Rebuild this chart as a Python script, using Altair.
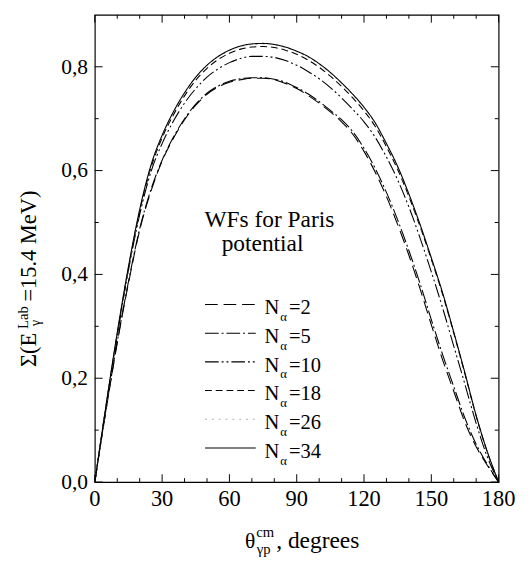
import altair as alt
import pandas as pd

FONT = "serif"

# ---------------- data ----------------
theta = [0, 5, 10, 15, 20, 25, 30, 35, 40, 45, 50, 55, 60, 65, 70, 75, 80, 85, 90,
         95, 100, 105, 110, 115, 120, 125, 130, 135, 140, 145, 150, 155, 160, 165, 170, 175, 180]

series_names = ["2", "5", "10", "18", "26", "34"]

n2 = [0, .138, .268, .383, .485, .560, .618, .662, .698, .726, .747, .761, .770, .775, .778, .778,
      .775, .768, .758, .745, .730, .713, .694, .670, .637, .597, .550, .496, .437, .372, .303,
      .236, .175, .115, .068, .032, 0]
n5 = [0, .140, .270, .386, .488, .563, .620, .664, .700, .728, .749, .763, .772, .777, .779, .779,
      .776, .770, .760, .748, .733, .716, .698, .675, .643, .604, .558, .505, .446, .382, .313,
      .246, .184, .123, .073, .034, 0]
n10 = [0, .146, .282, .408, .515, .597, .652, .695, .730, .758, .780, .796, .808, .816, .820, .820,
       .818, .812, .803, .791, .777, .760, .740, .718, .694, .664, .626, .582, .530, .470, .405,
       .336, .262, .188, .113, .048, 0]
n18 = [0, .146, .285, .412, .521, .605, .663, .707, .744, .774, .797, .814, .826, .834, .838, .839,
       .837, .832, .824, .813, .799, .782, .762, .740, .715, .685, .646, .602, .550, .492, .429,
       .362, .287, .208, .127, .057, 0]
n26 = [0, .148, .287, .414, .524, .609, .667, .712, .749, .779, .802, .819, .831, .839, .843, .844,
       .842, .837, .829, .818, .805, .788, .768, .746, .721, .691, .651, .607, .554, .495, .431,
       .364, .288, .209, .128, .058, 0]
n34 = [0, .148, .288, .415, .525, .610, .668, .713, .750, .780, .803, .820, .832, .840, .844, .845,
       .843, .838, .830, .820, .806, .789, .769, .747, .722, .692, .652, .608, .555, .496, .432,
       .365, .289, .210, .128, .058, 0]

values = {"2": n2, "5": n5, "10": n10, "18": n18, "26": n26, "34": n34}

x_label_values = [0, 30, 60, 90, 120, 150, 180]
x_label_text = ["0", "30", "60", "90", "120", "150", "180"]
x_minor_values = [10, 20, 40, 50, 70, 80, 100, 110, 130, 140, 160, 170]
y_label_values = [0.0, 0.2, 0.4, 0.6, 0.8]
y_label_text = ["0,0", "0,2", "0,4", "0,6", "0,8"]
y_minor_values = [0.1, 0.3, 0.5, 0.7]

legend_labels = ["=2", "=5", "=10", "=18", "=26", "=34"]

rows = []
for s in series_names:
    for t, v in zip(theta, values[s]):
        rows.append({"theta": t, "sigma": v, "series": s})
df = pd.DataFrame(rows)

# ---------------- styles ----------------
W, H = 414, 479
dash_range = [[13, 6], [14, 3, 2, 3], [14, 3, 2, 3, 2, 3], [7, 4], [2, 5], [1, 0]]
color_range = ["black", "black", "black", "black", "#b0b0b0", "black"]

x_scale = alt.Scale(domain=[0, 180], nice=False, zero=False)
y_scale = alt.Scale(domain=[0, 0.9], nice=False, zero=False)
dash_enc = alt.StrokeDash("series:N", scale=alt.Scale(domain=series_names, range=dash_range), legend=None)
color_enc = alt.Color("series:N", scale=alt.Scale(domain=series_names, range=color_range), legend=None)

lines = alt.Chart(df).mark_line(strokeWidth=1.1, interpolate="monotone").encode(
    x=alt.X("theta:Q", scale=x_scale, axis=None),
    y=alt.Y("sigma:Q", scale=y_scale, axis=None),
    strokeDash=dash_enc,
    color=color_enc,
)


def xticks(vals, L):
    base = alt.Chart(pd.DataFrame({"theta": vals}))
    b = base.mark_rule(color="black", strokeWidth=1).encode(
        x=alt.X("theta:Q", scale=x_scale, axis=None), y=alt.value(H), y2=alt.value(H - L))
    t = base.mark_rule(color="black", strokeWidth=1).encode(
        x=alt.X("theta:Q", scale=x_scale, axis=None), y=alt.value(0), y2=alt.value(L))
    return [b, t]


def yticks(vals, L):
    base = alt.Chart(pd.DataFrame({"sigma": vals}))
    l = base.mark_rule(color="black", strokeWidth=1).encode(
        y=alt.Y("sigma:Q", scale=y_scale, axis=None), x=alt.value(0), x2=alt.value(L))
    r = base.mark_rule(color="black", strokeWidth=1).encode(
        y=alt.Y("sigma:Q", scale=y_scale, axis=None), x=alt.value(W), x2=alt.value(W - L))
    return [l, r]


def txt(s, x, y, size, angle=None, align="left", baseline="alphabetic"):
    kw = dict(font=FONT, fontSize=size, color="black", align=align, baseline=baseline)
    if angle is not None:
        kw["angle"] = angle
    return alt.Chart(pd.DataFrame({"t": [s]})).mark_text(**kw).encode(
        x=alt.value(x), y=alt.value(y), text="t:N")


# tick labels
x_lab = alt.Chart(pd.DataFrame({"theta": x_label_values, "lab": x_label_text})).mark_text(
    font=FONT, fontSize=23, color="black", align="center", baseline="top"
).encode(x=alt.X("theta:Q", scale=x_scale, axis=None), y=alt.value(H + 7), text="lab:N")
y_lab = alt.Chart(pd.DataFrame({"sigma": y_label_values, "lab": y_label_text})).mark_text(
    font=FONT, fontSize=22, color="black", align="right", baseline="middle"
).encode(y=alt.Y("sigma:Q", scale=y_scale, axis=None), x=alt.value(-7), text="lab:N")

# legend
row0, step = 297, 29.4
leg = pd.DataFrame({
    "series": series_names,
    "lab": legend_labels,
    "py": [row0 + i * step for i in range(len(series_names))],
})
leg["ny"] = leg["py"] + 10
leg["ay"] = leg["py"] + 17

leg_lines = alt.Chart(leg).mark_rule(strokeWidth=1.1).encode(
    x=alt.value(113), x2=alt.value(165), y=alt.Y("py:Q", scale=None),
    strokeDash=dash_enc, color=color_enc)
leg_n = alt.Chart(leg).mark_text(font=FONT, fontSize=21, color="black", align="left",
                                 baseline="alphabetic").encode(
    x=alt.value(174), y=alt.Y("ny:Q", scale=None), text=alt.value("N"))
leg_a = alt.Chart(leg).mark_text(font=FONT, fontSize=13, color="black", align="left",
                                 baseline="alphabetic").encode(
    x=alt.value(190), y=alt.Y("ay:Q", scale=None), text=alt.value("α"))
leg_t = alt.Chart(leg).mark_text(font=FONT, fontSize=21, color="black", align="left",
                                 baseline="alphabetic").encode(
    x=alt.value(199), y=alt.Y("ny:Q", scale=None), text="lab:N")

layers = [lines]
layers += xticks(x_label_values, 8) + xticks(x_minor_values, 4)
layers += yticks(y_label_values, 8) + yticks(y_minor_values, 4)
layers += [x_lab, y_lab]
layers += [leg_lines, leg_n, leg_a, leg_t]
layers += [
    txt("WFs for Paris", 179, 218, 24, align="center"),
    txt("potential", 172, 242, 24, align="center"),
    # y title (rotated, reading upward)
    txt("Σ(E", -60, 361, 23, angle=270),
    txt("Lab", -69, 322, 15, angle=270),
    txt("γ", -56, 319, 14, angle=270),
    txt("=15.4 MeV)", -60, 294, 23, angle=270),
    # x title
    txt("θ", 154, 547, 22),
    txt("cm", 165.5, 535, 15),
    txt("γp", 166, 553, 15),
    txt(", degrees", 186, 547, 24),
]

chart = alt.layer(*layers).properties(
    width=W, height=H,
    background="white",
    autosize=alt.AutoSizeParams(type="none"),
    padding={"left": 89, "top": 0, "right": 25, "bottom": 78},
).configure_view(stroke="black", strokeWidth=1.2)

chart.save("out.html", embed_options={"renderer": "svg", "actions": False})
